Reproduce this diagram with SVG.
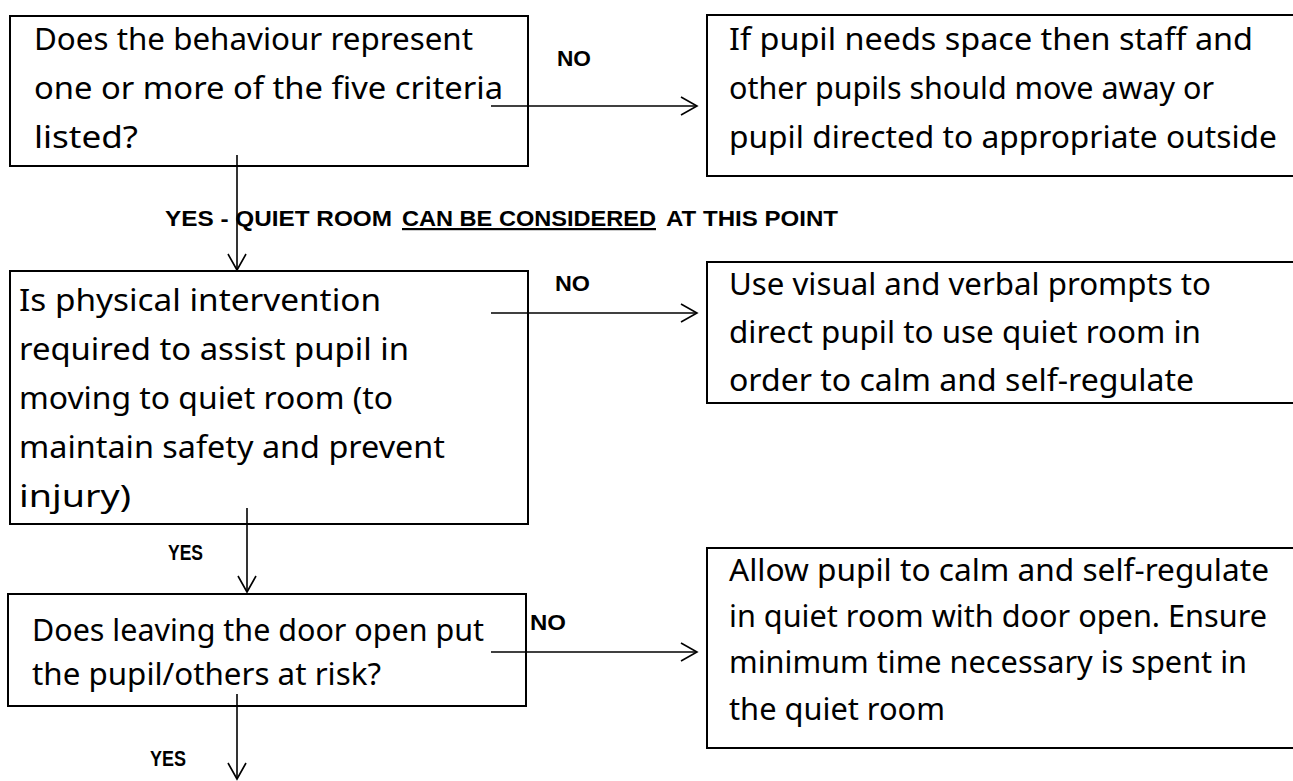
<svg xmlns="http://www.w3.org/2000/svg" width="1293" height="781" viewBox="0 0 1293 781">
<defs>
<style>
.box{fill:#fff;stroke:#000;stroke-width:2}
.t{font-family:"Noto Sans","DejaVu Sans",sans-serif;font-size:30px;fill:#000}
.lbl{font-family:"Liberation Sans","Arial",sans-serif;font-size:22px;font-weight:bold;fill:#000}
.c{stroke:#000;stroke-width:1.6;fill:none}
</style>
<marker id="ah" markerUnits="userSpaceOnUse" markerWidth="24" markerHeight="24" viewBox="-20 -12 24 24" refX="0" refY="0" orient="auto">
<path d="M-16,-9 L0,0 L-16,9" fill="none" stroke="#000" stroke-width="1.6"/>
</marker>
</defs>
<rect width="1293" height="781" fill="#fff"/>
<g id="n1">
<rect class="box" x="10" y="16" width="518" height="150"/>
<text class="t" lengthAdjust="spacingAndGlyphs"><tspan x="34" y="50" textLength="439" lengthAdjust="spacingAndGlyphs">Does the behaviour represent</tspan><tspan x="34" y="99" textLength="469" lengthAdjust="spacingAndGlyphs">one or more of the five criteria</tspan><tspan x="34" y="148" textLength="104" lengthAdjust="spacingAndGlyphs">listed?</tspan></text>
</g>
<g id="n2">
<rect class="box" x="707" y="15" width="600" height="161"/>
<text class="t"><tspan x="729" y="50" textLength="524" lengthAdjust="spacingAndGlyphs">If pupil needs space then staff and</tspan><tspan x="729" y="99" textLength="485" lengthAdjust="spacingAndGlyphs">other pupils should move away or</tspan><tspan x="729" y="148" textLength="548" lengthAdjust="spacingAndGlyphs">pupil directed to appropriate outside</tspan></text>
</g>
<g id="n3">
<rect class="box" x="10" y="271" width="518" height="253"/>
<text class="t"><tspan x="19" y="311" textLength="362" lengthAdjust="spacingAndGlyphs">Is physical intervention</tspan><tspan x="19" y="360" textLength="390" lengthAdjust="spacingAndGlyphs">required to assist pupil in</tspan><tspan x="19" y="409" textLength="374" lengthAdjust="spacingAndGlyphs">moving to quiet room (to</tspan><tspan x="19" y="458" textLength="426" lengthAdjust="spacingAndGlyphs">maintain safety and prevent</tspan><tspan x="19" y="507" textLength="112" lengthAdjust="spacingAndGlyphs">injury)</tspan></text>
</g>
<g id="n4">
<rect class="box" x="707" y="262" width="600" height="141"/>
<text class="t"><tspan x="729" y="295" textLength="482" lengthAdjust="spacingAndGlyphs">Use visual and verbal prompts to</tspan><tspan x="729" y="343" textLength="472" lengthAdjust="spacingAndGlyphs">direct pupil to use quiet room in</tspan><tspan x="729" y="391" textLength="465" lengthAdjust="spacingAndGlyphs">order to calm and self-regulate</tspan></text>
</g>
<g id="n5">
<rect class="box" x="8" y="594" width="518" height="112"/>
<text class="t"><tspan x="32" y="641" textLength="452" lengthAdjust="spacingAndGlyphs">Does leaving the door open put</tspan><tspan x="32" y="685" textLength="349" lengthAdjust="spacingAndGlyphs">the pupil/others at risk?</tspan></text>
</g>
<g id="n6">
<rect class="box" x="707" y="548" width="600" height="200"/>
<text class="t"><tspan x="729" y="581" textLength="540" lengthAdjust="spacingAndGlyphs">Allow pupil to calm and self-regulate</tspan><tspan x="729" y="627" textLength="538" lengthAdjust="spacingAndGlyphs">in quiet room with door open. Ensure</tspan><tspan x="729" y="673" textLength="518" lengthAdjust="spacingAndGlyphs">minimum time necessary is spent in</tspan><tspan x="729" y="720" textLength="216" lengthAdjust="spacingAndGlyphs">the quiet room</tspan></text>
</g>
<g id="connectors">
<line class="c" x1="491" y1="106" x2="697" y2="106" marker-end="url(#ah)"/>
<line class="c" x1="237" y1="155" x2="237" y2="270" marker-end="url(#ah)"/>
<line class="c" x1="491" y1="313" x2="697" y2="313" marker-end="url(#ah)"/>
<line class="c" x1="247" y1="508" x2="247" y2="592" marker-end="url(#ah)"/>
<line class="c" x1="491" y1="652" x2="697" y2="652" marker-end="url(#ah)"/>
<line class="c" x1="237" y1="694" x2="237" y2="779" marker-end="url(#ah)"/>
</g>
<g id="labels">
<text class="lbl" x="557" y="66" textLength="34" lengthAdjust="spacingAndGlyphs">NO</text>
<text class="lbl" x="555" y="291" textLength="35" lengthAdjust="spacingAndGlyphs">NO</text>
<text class="lbl" x="530" y="630" textLength="36" lengthAdjust="spacingAndGlyphs">NO</text>
<text class="lbl" x="168" y="560" textLength="35" lengthAdjust="spacingAndGlyphs">YES</text>
<text class="lbl" x="150" y="766" textLength="36" lengthAdjust="spacingAndGlyphs">YES</text>
<text class="lbl" y="226"><tspan x="165" textLength="227" lengthAdjust="spacingAndGlyphs">YES - QUIET ROOM</tspan><tspan x="402" textLength="254" lengthAdjust="spacingAndGlyphs" text-decoration="underline">CAN BE CONSIDERED</tspan><tspan x="666" textLength="172" lengthAdjust="spacingAndGlyphs">AT THIS POINT</tspan></text>
</g>
</svg>
